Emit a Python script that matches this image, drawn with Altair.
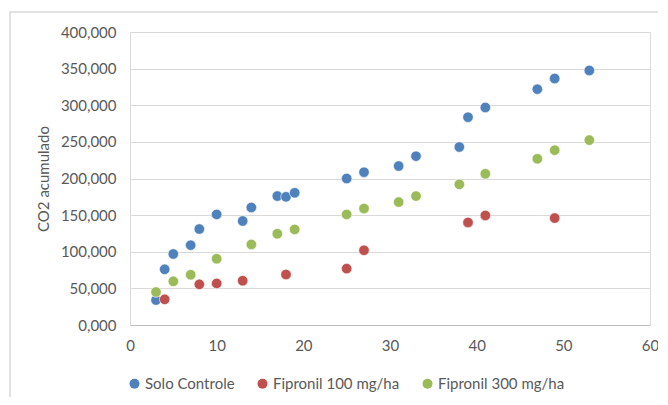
import altair as alt
import pandas as pd

series_names = ["Solo Controle", "Fipronil 100 mg/ha", "Fipronil 300 mg/ha"]
colors = ["#4F81BD", "#C0504D", "#9BBB59"]

solo_x = [3, 4, 5, 7, 8, 10, 13, 14, 17, 18, 19, 25, 27, 31, 33, 38, 39, 41, 47, 49, 53]
solo_y = [34, 76, 97, 109, 131, 151, 142, 160.5, 176, 175, 180.5, 200, 208.6, 217, 230.5,
          243, 283.7, 297, 322, 336.5, 347.5]

f100_x = [4, 8, 10, 13, 18, 25, 27, 39, 41, 49]
f100_y = [35, 55.5, 56.8, 60.5, 69, 77, 102, 140, 149.6, 146]

f300_x = [3, 5, 7, 10, 14, 17, 19, 25, 27, 31, 33, 38, 41, 47, 49, 53]
f300_y = [45, 59.6, 68.6, 90.5, 110, 124.6, 130.5, 151, 159, 167.8, 176, 192, 206.4,
          226.9, 238.7, 252.4]

y_title = "CO2 acumulado"

rows = []
for name, xs, ys in [(series_names[0], solo_x, solo_y),
                     (series_names[1], f100_x, f100_y),
                     (series_names[2], f300_x, f300_y)]:
    for x, y in zip(xs, ys):
        rows.append({"dia": x, "co2": y, "serie": name})
df = pd.DataFrame(rows)

FONT = "Lato"
FS = 15

points = alt.Chart(df).mark_circle(size=110, opacity=1, stroke="white", strokeWidth=0.6).encode(
    x=alt.X("dia:Q", scale=alt.Scale(domain=[0, 60], nice=False),
            axis=alt.Axis(values=[0, 10, 20, 30, 40, 50, 60], title=None, grid=False,
                          ticks=False, domainColor="#BFBFBF", labelPadding=13,
                          labelFlush=False,
                          labelColor="#595959", labelFontSize=FS, labelFont=FONT)),
    y=alt.Y("co2:Q", scale=alt.Scale(domain=[0, 400], nice=False),
            axis=alt.Axis(values=[0, 50, 100, 150, 200, 250, 300, 350, 400],
                          labelExpr="replace(format(datum.value, '.3f'), '.', ',')",
                          title=y_title, titleFont=FONT, titleFontSize=FS,
                          titleFontWeight="normal", titleColor="#595959",
                          titlePadding=9, grid=True, gridColor="#D9D9D9",
                          ticks=False, domainColor="#D9D9D9", labelPadding=14,
                          labelFlush=False,
                          labelColor="#595959", labelFontSize=FS, labelFont=FONT)),
    color=alt.Color("serie:N", scale=alt.Scale(domain=series_names, range=colors),
                    sort=series_names,
                    legend=alt.Legend(title=None, orient="none", direction="horizontal",
                                      legendX=-3, legendY=344, symbolType="circle",
                                      symbolSize=100, labelFont=FONT, labelFontSize=FS,
                                      labelColor="#595959", columnPadding=20,
                                      symbolStrokeWidth=0, labelOffset=3)),
)

frame = alt.Chart(pd.DataFrame({"a": [0]})).mark_rect(
    fill=None, stroke="#D9D9D9", strokeWidth=1.5
).encode(x=alt.value(-120), x2=alt.value(560), y=alt.value(-20), y2=alt.value(420))

chart = alt.layer(frame, points).properties(
    width=520, height=293,
    autosize=alt.AutoSizeParams(type="none"),
    padding={"left": 122, "top": 24, "right": 8, "bottom": 72},
).configure_view(stroke=None).configure(background="white")

chart.save("out.html", embed_options={"renderer": "svg", "actions": False})
